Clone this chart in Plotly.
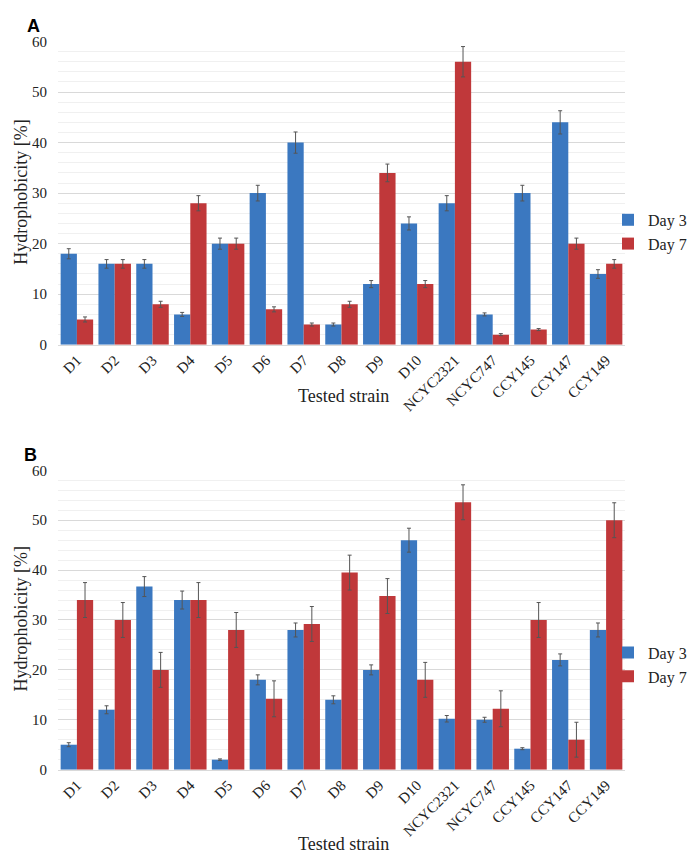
import plotly.graph_objects as go

strains = ["D1", "D2", "D3", "D4", "D5", "D6", "D7", "D8", "D9", "D10",
           "NCYC2321", "NCYC747", "CCY145", "CCY147", "CCY149"]

a_day3 = [18, 16, 16, 6, 20, 30, 40, 4, 12, 24, 28, 6, 30, 44, 14]
a_day3_err = [1.0, 0.85, 0.85, 0.4, 1.1, 1.55, 2.1, 0.3, 0.7, 1.3, 1.5, 0.3, 1.55, 2.3, 0.85]
a_day7 = [5, 16, 8, 28, 20, 7, 4, 8, 34, 12, 56, 2, 3, 20, 16]
a_day7_err = [0.5, 0.85, 0.6, 1.5, 1.1, 0.5, 0.3, 0.6, 1.75, 0.7, 3.0, 0.2, 0.2, 1.1, 0.85]

b_day3 = [5, 12, 36.7, 34, 2, 18, 28, 14, 20, 46, 10.2, 10, 4.2, 22, 28]
b_day3_err = [0.4, 0.8, 2.0, 1.8, 0.15, 1.0, 1.4, 0.8, 1.0, 2.4, 0.65, 0.5, 0.2, 1.2, 1.4]
b_day7 = [34, 30, 20, 34, 28, 14.2, 29.2, 39.5, 34.8, 18, 53.6, 12.2, 30, 6, 50]
b_day7_err = [3.5, 3.5, 3.5, 3.5, 3.5, 3.6, 3.5, 3.5, 3.5, 3.5, 3.5, 3.6, 3.5, 3.5, 3.5]

BLUE = "#3b78c0"
RED = "#c0383a"
SERIF = "Liberation Serif"
W, H = 697, 856

def px_y(p):
    return 1 - p / H

fig = go.Figure()

def add_bars(xa, ya, leg, d3, d3e, d7, d7e):
    for name, vals, errs, col in [("Day 3", d3, d3e, BLUE), ("Day 7", d7, d7e, RED)]:
        fig.add_trace(go.Bar(
            x=strains, y=vals, name=name, marker=dict(color=col, line=dict(width=0)),
            error_y=dict(type="data", array=errs, color="#555555", thickness=1, width=2),
            xaxis=xa, yaxis=ya, legend=leg))

add_bars("x", "y", "legend", a_day3, a_day3_err, a_day7, a_day7_err)
add_bars("x2", "y2", "legend2", b_day3, b_day3_err, b_day7, b_day7_err)

xdom = [50 / W, 617 / W]
common_x = dict(tickangle=-45, tickfont=dict(family=SERIF, size=15, color="#222222"),
                showline=True, linecolor="#d9d9d9", linewidth=1, ticks="",
                showgrid=False)
common_y = dict(range=[0, 60], dtick=10, tickfont=dict(family=SERIF, size=15, color="#222222"),
                showgrid=True, gridcolor="#d9d9d9", gridwidth=1, zeroline=False,
                ticks="", showline=False, ticklabelstandoff=10,
                minor=dict(dtick=2, showgrid=True, gridcolor="#f0f0f0", gridwidth=1))

leg_common = dict(xanchor="left", yanchor="middle",
                  font=dict(family=SERIF, size=16, color="#222222"),
                  itemwidth=30, tracegroupgap=0, bgcolor="rgba(0,0,0,0)",
                  borderwidth=0)

fig.update_layout(
    width=W, height=H, margin=dict(l=0, r=0, t=0, b=0),
    plot_bgcolor="white", paper_bgcolor="white",
    barmode="group", bargap=0.14, bargroupgap=0,
    xaxis=dict(domain=xdom, anchor="y", **common_x),
    yaxis=dict(domain=[px_y(335), px_y(26)], anchor="x", **common_y),
    xaxis2=dict(domain=xdom, anchor="y2", **common_x),
    yaxis2=dict(domain=[px_y(768), px_y(463)], anchor="x2", **common_y),
    legend=dict(x=600 / W, y=px_y(220), **leg_common),
    legend2=dict(x=600 / W, y=px_y(661), **leg_common),
    showlegend=True,
)

annots = [
    dict(text="<b>A</b>", x=17 / W, y=px_y(10), xanchor="left", yanchor="middle",
         font=dict(family="Liberation Sans", size=18, color="black")),
    dict(text="<b>B</b>", x=14 / W, y=px_y(447), xanchor="left", yanchor="middle",
         font=dict(family="Liberation Sans", size=18, color="black")),
    dict(text="Tested strain", x=335 / W, y=px_y(387), xanchor="center", yanchor="middle",
         font=dict(family=SERIF, size=18, color="#222222")),
    dict(text="Tested strain", x=335 / W, y=px_y(844), xanchor="center", yanchor="middle",
         font=dict(family=SERIF, size=18, color="#222222")),
    dict(text="Hydrophobicity [%]", x=13 / W, y=px_y(180), textangle=-90,
         xanchor="center", yanchor="middle", font=dict(family=SERIF, size=18, color="#222222")),
    dict(text="Hydrophobicity [%]", x=13 / W, y=px_y(615), textangle=-90,
         xanchor="center", yanchor="middle", font=dict(family=SERIF, size=18, color="#222222")),
]
for a in annots:
    fig.add_annotation(xref="paper", yref="paper", showarrow=False, **a)

fig.write_html("out.html")
